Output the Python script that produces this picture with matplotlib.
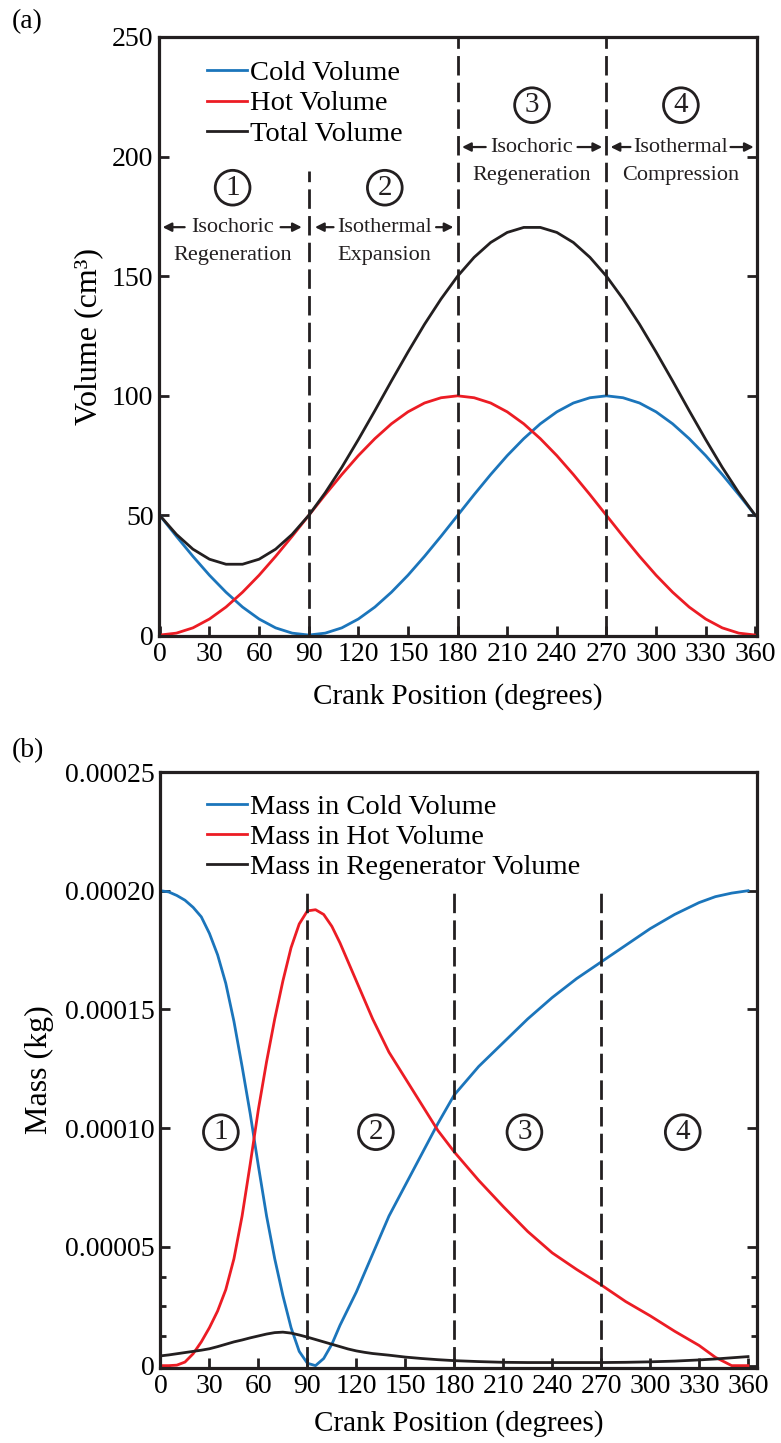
import matplotlib
matplotlib.use("Agg")
import matplotlib.pyplot as plt
import numpy as np

plt.rcParams['font.family'] = ['Liberation Serif', 'DejaVu Serif']

# ---------------- data ----------------
crank_deg = [0, 10, 20, 30, 40, 50, 60, 70, 80, 90, 100, 110, 120, 130, 140, 150, 160, 170, 180,
             190, 200, 210, 220, 230, 240, 250, 260, 270, 280, 290, 300, 310, 320, 330, 340, 350, 360]
cold_volume = [50, 41.3, 32.9, 25, 17.9, 11.7, 6.7, 3.0, 0.8, 0, 0.8, 3.0, 6.7, 11.7, 17.9, 25, 32.9, 41.3, 50,
               58.7, 67.1, 75, 82.1, 88.3, 93.3, 97.0, 99.2, 100, 99.2, 97.0, 93.3, 88.3, 82.1, 75, 67.1, 58.7, 50]
hot_volume = [0, 0.8, 3.0, 6.7, 11.7, 17.9, 25, 32.9, 41.3, 50, 58.7, 67.1, 75, 82.1, 88.3, 93.3, 97.0, 99.2, 100,
              99.2, 97.0, 93.3, 88.3, 82.1, 75, 67.1, 58.7, 50, 41.3, 32.9, 25, 17.9, 11.7, 6.7, 3.0, 0.8, 0]
total_volume = [50, 42.1, 35.9, 31.7, 29.6, 29.6, 31.7, 35.9, 42.1, 50, 59.5, 70.1, 81.7, 93.8, 106.2, 118.3, 129.9,
                140.5, 150, 157.9, 164.1, 168.3, 170.4, 170.4, 168.3, 164.1, 157.9, 150, 140.5, 129.9, 118.3,
                106.2, 93.8, 81.7, 70.1, 59.5, 50]

mass_deg = [0, 5, 10, 15, 20, 25, 30, 35, 40, 45, 50, 55, 60, 65, 70, 75, 80, 85, 90, 95, 100, 105, 110,
            115, 120, 125, 130, 140, 150, 160, 170, 180, 195, 210, 225, 240, 255, 270, 285, 300, 315, 330,
            340, 350, 360]
# masses in units of 1e-5 kg
mass_cold_e5 = [20.0, 19.95, 19.8, 19.6, 19.3, 18.9, 18.2, 17.3, 16.1, 14.5, 12.6, 10.6, 8.4, 6.3, 4.5, 2.95,
                1.6, 0.6, 0.1, 0.0, 0.3, 0.9, 1.7, 2.4, 3.1, 3.9, 4.7, 6.3, 7.6, 8.9, 10.2, 11.4,
                12.6, 13.6, 14.6, 15.5, 16.3, 17.0, 17.7, 18.4, 19.0, 19.5, 19.75, 19.9, 20.0]
mass_hot_e5 = [0.0, 0.0, 0.02, 0.15, 0.5, 1.0, 1.6, 2.3, 3.2, 4.5, 6.3, 8.5, 10.8, 12.8, 14.6, 16.2, 17.6,
               18.6, 19.15, 19.2, 19.0, 18.5, 17.8, 17.0, 16.2, 15.4, 14.6, 13.2, 12.1, 11.0, 9.9, 9.0,
               7.8, 6.7, 5.65, 4.75, 4.05, 3.4, 2.7, 2.1, 1.45, 0.85, 0.35, 0.0, 0.0]
mass_regen_e5 = [0.41, 0.45, 0.5, 0.55, 0.6, 0.65, 0.71, 0.8, 0.9, 1.0, 1.08, 1.17, 1.25, 1.33, 1.39, 1.41, 1.37,
                 1.29, 1.2, 1.1, 1.0, 0.9, 0.8, 0.7, 0.62, 0.56, 0.51, 0.44, 0.36, 0.3, 0.25, 0.21,
                 0.17, 0.14, 0.13, 0.13, 0.13, 0.13, 0.14, 0.16, 0.19, 0.24, 0.28, 0.33, 0.38]

x_ticks = [0, 30, 60, 90, 120, 150, 180, 210, 240, 270, 300, 330, 360]
vol_ticks = [0, 50, 100, 150, 200, 250]
vol_ticklabels = ['0', '50', '100', '150', '200', '250']
mass_ticks = [0, 0.00005, 0.00010, 0.00015, 0.00020, 0.00025]
mass_ticklabels = ['0', '0.00005', '0.00010', '0.00015', '0.00020', '0.00025']

mass_cold = np.array(mass_cold_e5) * 1e-5
mass_hot = np.array(mass_hot_e5) * 1e-5
mass_regen = np.array(mass_regen_e5) * 1e-5

BLUE = '#1b75bb'
RED = '#ec1c24'
BLACK = '#231f20'

W, H = 781, 1443
fig = plt.figure(figsize=(W / 100, H / 100), dpi=100)

def px_axes(l, r, t, b):
    return fig.add_axes([l / W, 1 - b / H, (r - l) / W, (b - t) / H])

ax1 = px_axes(159, 757, 37, 636)
ax2 = px_axes(160, 757, 772, 1368)

TICKFS = 20
XLABFS = 21
YLABFS = 23
LEGFS = 20.5

def style(ax):
    for s in ax.spines.values():
        s.set_linewidth(2.3)
        s.set_color(BLACK)
    ax.tick_params(axis='both', direction='in', length=7, width=2, color=BLACK,
                   labelsize=TICKFS, pad=4, right=True, top=False)
    ax.set_xticks(x_ticks)
    ax.set_xticklabels([str(t) for t in x_ticks])

# ---------------- (a) ----------------
lw = 2.0
ax1.plot(crank_deg, cold_volume, color=BLUE, lw=lw, label='Cold Volume')
ax1.plot(crank_deg, hot_volume, color=RED, lw=lw, label='Hot Volume')
ax1.plot(crank_deg, total_volume, color=BLACK, lw=lw, label='Total Volume')
ax1.set_xlim(-0.5, 361)
ax1.set_ylim(-0.4, 250)
ax1.set_yticks(vol_ticks)
ax1.set_yticklabels(vol_ticklabels)
style(ax1)
dash = (0, (7, 2.6))
ax1.plot([90, 90], [0, 194], color=BLACK, lw=2, linestyle=dash)
ax1.plot([180, 180], [0, 250], color=BLACK, lw=2, linestyle=dash)
ax1.plot([270, 270], [0, 250], color=BLACK, lw=2, linestyle=dash)
ax1.set_xlabel('Crank Position (degrees)', fontsize=XLABFS, labelpad=12)
ax1.set_ylabel('Volume (cm³)', fontsize=YLABFS, labelpad=6)
ax1.legend(loc='center left', bbox_to_anchor=((207 - 159) / 598, (636 - 103.5) / 599),
           frameon=False, fontsize=LEGFS, handlelength=1.4, handletextpad=0.12,
           labelspacing=0.15, borderpad=0, borderaxespad=0)

ann_fs = 16
arrow_kw = dict(arrowstyle='-|>', color=BLACK, lw=1.6, mutation_scale=13, shrinkA=0, shrinkB=0)

def circled(ax, x, y, num):
    ax.text(x, y, str(num), fontsize=21, ha='center', va='center', color=BLACK,
            bbox=dict(boxstyle='circle,pad=0.15', fc='none', ec=BLACK, lw=2.0))

def section(ax, num, xc, ycirc, y1, y2, line1, line2, tips):
    circled(ax, xc, ycirc, num)
    ax.text(xc, y1, line1, fontsize=ann_fs, ha='center', va='center', color=BLACK)
    ax.text(xc, y2, line2, fontsize=ann_fs, ha='center', va='center', color=BLACK)
    lt, ltail, rtail, rt = tips
    ax.annotate('', xy=(lt, y1), xytext=(ltail, y1), arrowprops=arrow_kw)
    ax.annotate('', xy=(rt, y1), xytext=(rtail, y1), arrowprops=arrow_kw)

section(ax1, 1, 44, 187, 170.5, 158.5, 'Isochoric', 'Regeneration', (1.7, 15, 73, 85.8))
section(ax1, 2, 136, 187, 170.5, 158.5, 'Isothermal', 'Expansion', (93.8, 105, 167, 177.5))
section(ax1, 3, 225, 221.5, 204, 192, 'Isochoric', 'Regeneration', (182.7, 197, 252.5, 267.4))
section(ax1, 4, 315, 221.5, 204, 192, 'Isothermal', 'Compression', (272.5, 284.5, 345, 359))

fig.text(12 / W, 1 - 22 / H, '(a)', fontsize=20, ha='left', va='center')

# ---------------- (b) ----------------
ax2.plot(mass_deg, mass_cold, color=BLUE, lw=lw, label='Mass in Cold Volume')
ax2.plot(mass_deg, mass_hot, color=RED, lw=lw, label='Mass in Hot Volume')
ax2.plot(mass_deg, mass_regen, color=BLACK, lw=lw, label='Mass in Regenerator Volume')
ax2.set_xlim(-0.3, 365.5)
ax2.set_ylim(-0.000001, 0.00025)
ax2.set_yticks(mass_ticks)
ax2.set_yticklabels(mass_ticklabels)
style(ax2)
ax2.set_yticks([0.0000125, 0.000025, 0.0000375], minor=True)
ax2.tick_params(axis='y', which='minor', direction='in', length=4, width=2, color=BLACK, right=True)
ax2.plot([90, 90], [0, 0.0002], color=BLACK, lw=2, linestyle=dash)
ax2.plot([180, 180], [0, 0.0002], color=BLACK, lw=2, linestyle=dash)
ax2.plot([270, 270], [0, 0.0002], color=BLACK, lw=2, linestyle=dash)
ax2.set_xlabel('Crank Position (degrees)', fontsize=XLABFS, labelpad=8)
ax2.set_ylabel('Mass (kg)', fontsize=YLABFS, labelpad=8)
ax2.legend(loc='center left', bbox_to_anchor=((207 - 160) / 597, (1368 - 837) / 596),
           frameon=False, fontsize=LEGFS, handlelength=1.4, handletextpad=0.12,
           labelspacing=0.15, borderpad=0, borderaxespad=0)
for num, xc in zip([1, 2, 3, 4], [37, 132, 223, 320]):
    circled(ax2, xc, 0.0000983, num)

fig.text(12 / W, 1 - 751 / H, '(b)', fontsize=20, ha='left', va='center')

fig.savefig('out.png', dpi=100)
